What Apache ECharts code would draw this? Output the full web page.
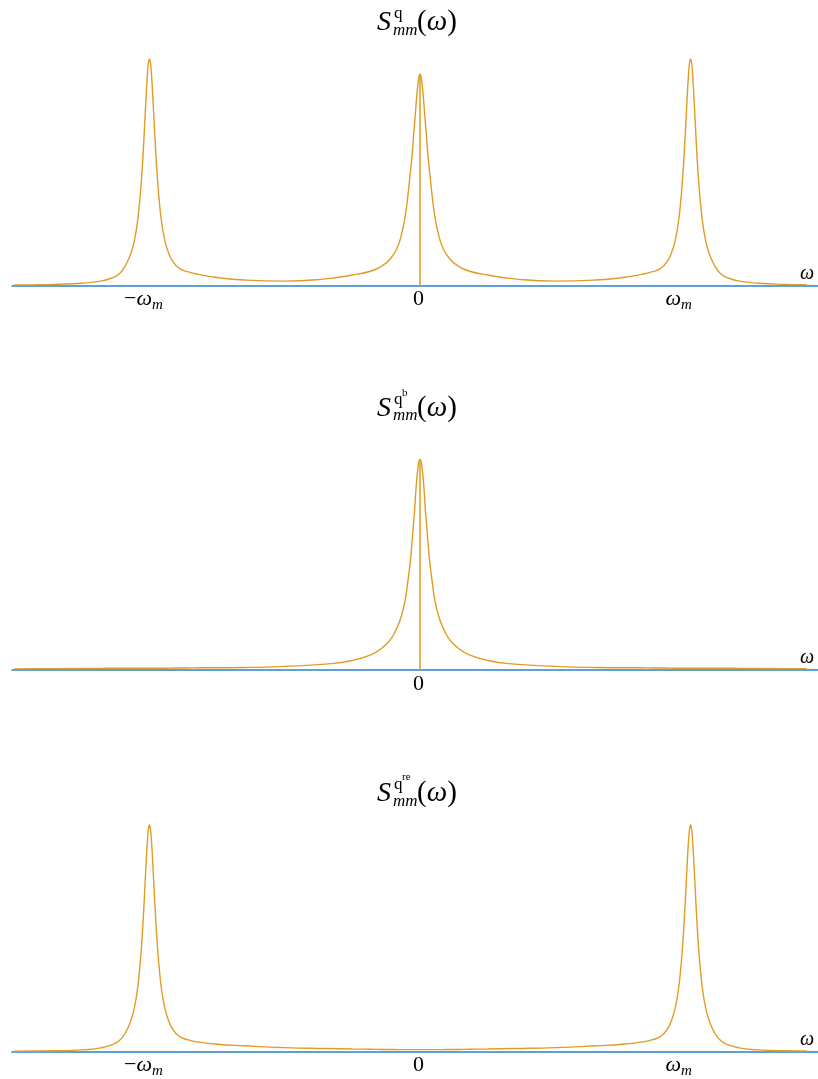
<!DOCTYPE html>
<html>
<head>
<meta charset="utf-8">
<script src="https://cdn.jsdelivr.net/npm/echarts@6/dist/echarts.min.js"></script>
<style>
html,body{margin:0;padding:0;background:#ffffff;}
#chart{width:818px;height:1079px;}
</style>
</head>
<body>
<div id="chart"></div>
<script>
// ---- data (omega in units of omega_m, spectra in arbitrary units) ----
const xs = [
  -1.5, -1.42, -1.35, -1.25, -1.18, -1.14, -1.11, -1.085, -1.067, -1.055, -1.045, -1.037, -1.03, -1.025, -1.02, -1.016, -1.012, -1.008, -1.004, -1,
  -0.996, -0.992, -0.988, -0.984, -0.98, -0.975, -0.97, -0.963, -0.955, -0.945, -0.933, -0.915, -0.89, -0.86, -0.82, -0.75, -0.65, -0.5,
  -0.35, -0.25, -0.18, -0.14, -0.11, -0.085, -0.067, -0.055, -0.045, -0.037, -0.03, -0.025, -0.02, -0.016, -0.012, -0.008, -0.004, 0,
  0.004, 0.008, 0.012, 0.016, 0.02, 0.025, 0.03, 0.037, 0.045, 0.055, 0.067, 0.085, 0.11, 0.14, 0.18, 0.25, 0.35,
  0.5, 0.65, 0.75, 0.82, 0.86, 0.89, 0.915, 0.933, 0.945, 0.955, 0.963, 0.97, 0.975, 0.98, 0.984, 0.988, 0.992, 0.996, 1,
  1.004, 1.008, 1.012, 1.016, 1.02, 1.025, 1.03, 1.037, 1.045, 1.055, 1.067, 1.085, 1.11, 1.14, 1.18, 1.25, 1.35, 1.43
];
const sQ = [
  0.003, 0.004, 0.006, 0.011, 0.02, 0.034, 0.054, 0.098, 0.149, 0.204, 0.275, 0.36, 0.46, 0.55, 0.657, 0.75, 0.842, 0.924, 0.98, 1.0,
  0.98, 0.924, 0.842, 0.75, 0.66, 0.553, 0.464, 0.364, 0.28, 0.21, 0.157, 0.11, 0.077, 0.062, 0.05, 0.036, 0.025, 0.02,
  0.03, 0.047, 0.065, 0.088, 0.118, 0.165, 0.233, 0.305, 0.395, 0.485, 0.565, 0.643, 0.716, 0.776, 0.836, 0.885, 0.92, 0.934,
  0.92, 0.885, 0.836, 0.776, 0.716, 0.643, 0.565, 0.485, 0.395, 0.305, 0.233, 0.165, 0.118, 0.088, 0.065, 0.047, 0.03,
  0.02, 0.025, 0.036, 0.05, 0.062, 0.077, 0.11, 0.157, 0.21, 0.28, 0.364, 0.464, 0.553, 0.66, 0.75, 0.842, 0.924, 0.98, 1.0,
  0.98, 0.924, 0.842, 0.75, 0.657, 0.55, 0.46, 0.36, 0.275, 0.204, 0.149, 0.098, 0.054, 0.034, 0.02, 0.011, 0.006, 0.004
];
const sQb = [
  0.005, 0.006, 0.006, 0.007, 0.007, 0.008, 0.008, 0.008, 0.008, 0.008, 0.008, 0.008, 0.008, 0.008, 0.008, 0.008, 0.008, 0.008, 0.008, 0.008,
  0.008, 0.008, 0.008, 0.008, 0.008, 0.008, 0.008, 0.008, 0.008, 0.008, 0.008, 0.009, 0.009, 0.009, 0.010, 0.010, 0.011, 0.016,
  0.026, 0.042, 0.068, 0.098, 0.133, 0.186, 0.246, 0.307, 0.39, 0.465, 0.557, 0.632, 0.701, 0.78, 0.841, 0.887, 0.92, 0.929,
  0.92, 0.887, 0.841, 0.78, 0.701, 0.632, 0.557, 0.465, 0.39, 0.307, 0.246, 0.186, 0.133, 0.098, 0.068, 0.042, 0.026,
  0.016, 0.011, 0.010, 0.010, 0.009, 0.009, 0.009, 0.008, 0.008, 0.008, 0.008, 0.008, 0.008, 0.008, 0.008, 0.008, 0.008, 0.008, 0.008,
  0.008, 0.008, 0.008, 0.008, 0.008, 0.008, 0.008, 0.008, 0.008, 0.008, 0.008, 0.008, 0.008, 0.008, 0.007, 0.007, 0.006, 0.006
];
const sQre = [
  0.002, 0.003, 0.004, 0.008, 0.017, 0.03, 0.05, 0.092, 0.143, 0.198, 0.269, 0.354, 0.455, 0.545, 0.652, 0.745, 0.838, 0.921, 0.979, 1.0,
  0.979, 0.921, 0.838, 0.745, 0.653, 0.547, 0.457, 0.357, 0.273, 0.203, 0.15, 0.102, 0.068, 0.053, 0.043, 0.033, 0.026, 0.018,
  0.014, 0.012, 0.011, 0.010, 0.010, 0.009, 0.009, 0.009, 0.009, 0.009, 0.009, 0.009, 0.009, 0.009, 0.009, 0.009, 0.009, 0.009,
  0.009, 0.009, 0.009, 0.009, 0.009, 0.009, 0.009, 0.009, 0.009, 0.009, 0.009, 0.009, 0.010, 0.010, 0.011, 0.012, 0.014,
  0.018, 0.026, 0.033, 0.043, 0.053, 0.068, 0.102, 0.15, 0.203, 0.273, 0.357, 0.457, 0.547, 0.653, 0.745, 0.838, 0.921, 0.979, 1.0,
  0.979, 0.921, 0.838, 0.745, 0.652, 0.545, 0.455, 0.354, 0.269, 0.198, 0.143, 0.092, 0.05, 0.03, 0.017, 0.008, 0.004, 0.003
];
// coherent (delta) contribution at omega = 0
const deltaX = [0, 0];
const deltaQ = [0, 0.934];
const deltaQb = [0, 0.929];
// tick values and labels
const ticksFull = [-1, 0, 1];
const ticksCenter = [0];
const tickSign = {'-1': '−', '0': '', '1': ''};
const tickBase = {'-1': 'ω', '0': '0', '1': 'ω'};
const tickSub = {'-1': 'm', '0': '', '1': 'm'};
const titleSup = ['q', 'q', 'q'];
const titleSupSup = ['', 'b', 're'];

const ORANGE = '#e19c24';
const BLUE = '#2b83c6';
const FONT = '"Liberation Serif", "DejaVu Serif", serif';

const pairs = (a, b) => a.map((x, i) => [x, b[i]]);

const UNIT = 226.7;          // px per data unit
const YMAX = 1.1;
const GH = YMAX * UNIT;
const baselines = [285.7, 670, 1051.7];

const padW = {'-1': 12, '0': 3, '1': 24};
function labelFmt(v) {
  const k = String(Math.round(v));
  const s = tickSign[k] ? '{n|' + tickSign[k] + '}' : '';
  const b = k === '0' ? '{n|0}' : '{w|' + tickBase[k] + '}';
  const sub = tickSub[k] ? '{s|' + tickSub[k] + '}' : '';
  return s + b + sub + '{p' + k.replace('-', 'm') + '|}';
}
const rich = {
  n: {fontFamily: FONT, fontSize: 22, lineHeight: 26, color: '#000'},
  w: {fontFamily: FONT, fontSize: 22, fontStyle: 'italic', lineHeight: 26, color: '#000'},
  s: {fontFamily: FONT, fontSize: 15, fontStyle: 'italic', lineHeight: 17, verticalAlign: 'bottom', color: '#000'},
  pm1: {width: padW['-1'], lineHeight: 26},
  p0: {width: padW['0'], lineHeight: 26},
  p1: {width: padW['1'], lineHeight: 26}
};

const grids = [], xAxes = [], yAxes = [], series = [];
const tickSets = [ticksFull, ticksCenter, ticksFull];
const data = [sQ, sQb, sQre];
const deltas = [deltaQ, deltaQb, null];
for (let i = 0; i < 3; i++) {
  grids.push({left: 12, right: 0, top: baselines[i] - GH, height: GH, containLabel: false});
  xAxes.push({
    type: 'value', gridIndex: i, min: -1.508, max: 1.471,
    splitLine: {show: false},
    axisTick: {show: false},
    axisLine: {show: true, onZero: false, lineStyle: {color: BLUE, width: 1.6}},
    axisLabel: {show: true, customValues: tickSets[i], margin: 1, formatter: labelFmt, rich: rich}
  });
  yAxes.push({type: 'value', gridIndex: i, min: 0, max: YMAX, show: false});
  series.push({
    type: 'line', xAxisIndex: i, yAxisIndex: i, data: pairs(xs, data[i]),
    showSymbol: false, symbol: 'none', smooth: 0.5, silent: true,
    lineStyle: {color: ORANGE, width: 1.4}, z: 3
  });
  if (deltas[i]) {
    series.push({
      type: 'line', xAxisIndex: i, yAxisIndex: i, data: pairs(deltaX, deltas[i]),
      showSymbol: false, symbol: 'none', silent: true,
      lineStyle: {color: ORANGE, width: 1.5}, z: 3
    });
  }
}

// titles and axis-end labels (text)
const graphics = [];
const titleOffsets = [0, 385.5, 771];
function mid(baseline, fs) { return baseline - 0.3375 * fs; }
for (let i = 0; i < 3; i++) {
  const o = titleOffsets[i];
  graphics.push({type: 'text', x: 377, y: mid(32.5 + o, 28), style: {text: 'S', font: 'italic 28px ' + FONT, fill: '#000', textAlign: 'left', textVerticalAlign: 'middle', verticalAlign: 'middle'}});
  graphics.push({type: 'text', x: 394, y: mid(19.5 + o, 17), style: {text: titleSup[i], font: '17px ' + FONT, fill: '#000', textAlign: 'left', textVerticalAlign: 'middle', verticalAlign: 'middle'}});
  if (titleSupSup[i]) {
    graphics.push({type: 'text', x: 402, y: mid(11.5 + o - (i === 2 ? 2 : 0), 11), style: {text: titleSupSup[i], font: '11px ' + FONT, fill: '#000', textAlign: 'left', textVerticalAlign: 'middle', verticalAlign: 'middle'}});
  }
  graphics.push({type: 'text', x: 393, y: mid(36 + o, 17), style: {text: 'mm', font: 'italic 17px ' + FONT, fill: '#000', textAlign: 'left', textVerticalAlign: 'middle', verticalAlign: 'middle'}});
  graphics.push({type: 'text', x: 417, y: mid(32.5 + o, 29), style: {
    text: '{a|(}{b|ω}{a|)}',
    rich: {a: {fontFamily: FONT, fontSize: 29, fill: '#000', color: '#000'}, b: {fontFamily: FONT, fontSize: 29, fontStyle: 'italic', fill: '#000', color: '#000'}},
    textAlign: 'left', textVerticalAlign: 'middle', verticalAlign: 'middle'}});
  graphics.push({type: 'text', x: 800, y: mid(baselines[i] - 5.5, 20), style: {text: 'ω', font: 'italic 20px ' + FONT, fill: '#000', textAlign: 'left', textVerticalAlign: 'middle', verticalAlign: 'middle'}});
}

const chart = echarts.init(document.getElementById('chart'), null, {renderer: 'canvas'});
chart.setOption({
  backgroundColor: '#ffffff',
  animation: false,
  grid: grids, xAxis: xAxes, yAxis: yAxes, series: series,
  graphic: graphics
});
</script>
</body>
</html>
